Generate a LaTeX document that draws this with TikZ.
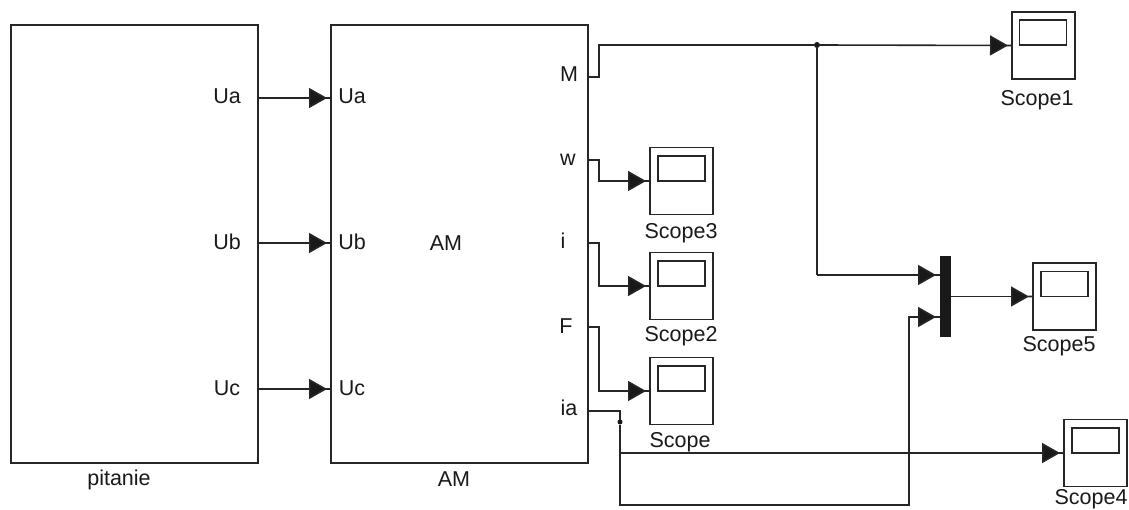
\documentclass[tikz,border=0pt]{standalone}
\usepackage{fontspec}
\setmainfont{Liberation Sans}
\usetikzlibrary{arrows.meta}
\tikzset{
  block/.style={draw=black!85, line width=1.6pt, minimum width=#1, minimum height=438pt, outer sep=0pt, inner sep=0pt},
  scopebox/.style={draw=black!85, line width=1.6pt, minimum width=63pt, minimum height=67pt, outer sep=0pt, inner sep=0pt},
  screen/.style={draw=black!85, line width=1.6pt, minimum width=47pt, minimum height=25pt, outer sep=0pt, inner sep=0pt},
  sig/.style={draw=black!85, line width=1.6pt, -{Triangle[length=18pt,width=20pt,fill=black!90]Butt Cap[length=4pt]}},
  wire/.style={draw=black!85, line width=1.6pt},
  dot/.style={circle, fill=black!90, minimum size=6pt, inner sep=0pt, outer sep=0pt},
  lbl/.style={font=\fontsize{21.5}{25}\selectfont, text=black!90, inner sep=0pt}
}
\begin{document}
\begin{tikzpicture}[x=1pt,y=-1pt]
    \useasboundingbox (0,0) rectangle (1129,510);
    % blocks
    \node[block=247pt] (pitanie) at (134.5,244) {};
    \node[block=257pt] (am) at (459.5,244) {};
    \node[lbl] (pitanielbl) at (119,480) {pitanie};
    \node[lbl] (amlbl) at (454,479) {AM};
    \node[lbl] (amname) at (446,243) {AM};
    \node[lbl] (ua) at (227,96) {Ua};
    \node[lbl] (ub) at (227,242) {Ub};
    \node[lbl] (uc) at (227,388) {Uc};
    \node[lbl] (uain) at (352,96) {Ua};
    \node[lbl] (ubin) at (352,242) {Ub};
    \node[lbl] (ucin) at (352,388) {Uc};
    \node[lbl] (mlbl) at (569,74) {M};
    \node[lbl] (wlbl) at (568,160) {w};
    \node[lbl] (ilbl) at (563,241) {i};
    \node[lbl] (flbl) at (566,326) {F};
    \node[lbl] (ialbl) at (569,408) {ia};
    % scopes
    \node[scopebox] (scopeone) at (1043.5,45.5) {};
    \node[screen] at (1043,32.5) (screenone) {};
    \node[lbl] (scopeonelbl) at (1037,100.5) {Scope1};
    \node[scopebox] (scopethree) at (681.5,181) {};
    \node[screen] at (681.5,168.5) (screenthree) {};
    \node[lbl] (scopethreelbl) at (681,233) {Scope3};
    \node[scopebox] (scopetwo) at (681.5,286) {};
    \node[screen] at (681.5,273.5) (screentwo) {};
    \node[lbl] (scopetwolbl) at (681,336) {Scope2};
    \node[scopebox] (scopezero) at (681.5,391) {};
    \node[screen] at (681.5,378.5) (screenzero) {};
    \node[lbl] (scopezerolbl) at (680,442) {Scope};
    \node[scopebox] (scopefive) at (1064.5,296.5) {};
    \node[screen] at (1064.5,284) (screenfive) {};
    \node[lbl] (scopefivelbl) at (1059,346) {Scope5};
    \node[scopebox] (scopefour) at (1095.5,453) {};
    \node[screen] at (1095.5,440.5) (screenfour) {};
    \node[lbl] (scopefourlbl) at (1091,499) {Scope4};
    % mux
    \node[fill=black!90, minimum width=11pt, minimum height=81pt, inner sep=0pt, outer sep=0pt] (mux) at (945,296.5) {};
    \node[dot] (splitm) at (817,45) {};
    \node[dot, minimum size=5pt] (splitia) at (620,422) {};
    % free ends on the block edges
    \coordinate (outm) at (588,77);
    \coordinate (outw) at (588,160);
    \coordinate (outi) at (588,243);
    \coordinate (outf) at (588,327);
    \coordinate (outia) at (588,411);
    \coordinate (muxa) at (940,275);
    \coordinate (muxb) at (940,317);
    % signals
    \draw[sig] (258,98) -- (331,98);
    \draw[sig] (258,243) -- (331,243);
    \draw[sig] (258,389) -- (331,389);
    \draw[wire] (outm) -| (599,45) -- (splitm);
    \draw[sig] (splitm) -- (scopeone.west);
    \draw[wire] (splitm) -- (817,275);
    \draw[sig] (817,275) -- (muxa);
    \draw[sig] (outw) -| (599,181) -- (scopethree.west);
    \draw[sig] (outi) -| (599,286) -- (scopetwo.west);
    \draw[sig] (outf) -| (599,391) -- (scopezero.west);
    \draw[wire] (outia) -| (splitia);
    \draw[wire] (splitia) -- (620,453);
    \draw[sig] (620,453) -- (scopefour.west);
    \draw[sig] (splitia) -- (620,505) -| (909,317) -- (muxb);
    \draw[sig] (mux.east) -- (scopefive.west);
\end{tikzpicture}
\end{document}
